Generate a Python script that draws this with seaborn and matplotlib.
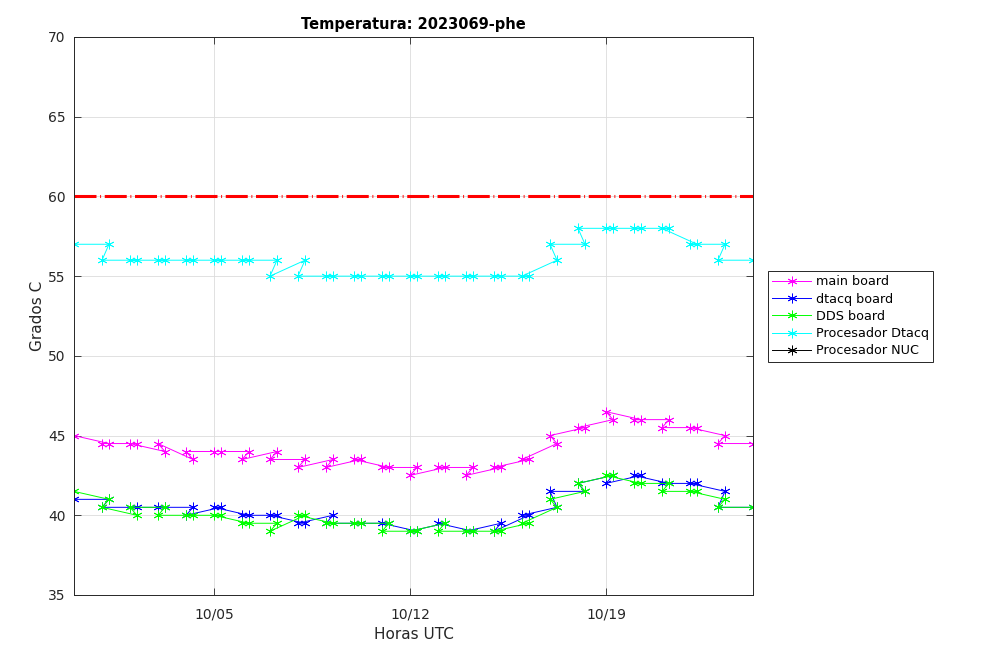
import matplotlib
matplotlib.use("Agg")
import matplotlib.pyplot as plt
import matplotlib.dates as mdates
from matplotlib.lines import Line2D
import numpy as np
import pandas as pd
import seaborn as sns

times = [
    "2023-09-30 00:00",
    "2023-10-01 06:00", "2023-10-01 00:00",
    "2023-10-02 06:00", "2023-10-02 00:00",
    "2023-10-03 06:00", "2023-10-03 00:00",
    "2023-10-04 06:00", "2023-10-04 00:00",
    "2023-10-05 06:00", "2023-10-05 00:00",
    "2023-10-06 06:00", "2023-10-06 00:00",
    "2023-10-07 06:00", "2023-10-07 00:00",
    "2023-10-08 06:00", "2023-10-08 00:00",
    "2023-10-09 06:00", "2023-10-09 00:00",
    "2023-10-10 06:00", "2023-10-10 00:00",
    "2023-10-11 06:00", "2023-10-11 00:00",
    "2023-10-12 06:00", "2023-10-12 00:00",
    "2023-10-13 06:00", "2023-10-13 00:00",
    "2023-10-14 06:00", "2023-10-14 00:00",
    "2023-10-15 06:00", "2023-10-15 00:00",
    "2023-10-16 06:00", "2023-10-16 00:00",
    "2023-10-17 06:00", "2023-10-17 00:00",
    "2023-10-18 06:00", "2023-10-18 00:00",
    "2023-10-19 06:00", "2023-10-19 00:00",
    "2023-10-20 06:00", "2023-10-20 00:00",
    "2023-10-21 06:00", "2023-10-21 00:00",
    "2023-10-22 06:00", "2023-10-22 00:00",
    "2023-10-23 06:00", "2023-10-23 00:00",
    "2023-10-24 06:00",
]

main_board = [45, 44.5, 44.5, 44.5, 44.5, 44, 44.5, 43.5, 44, 44, 44, 44, 43.5,
              44, 43.5, 43.5, 43, 43.5, 43, 43.5, 43.5, 43, 43, 43, 42.5, 43, 43,
              43, 42.5, 43, 43, 43.5, 43.5, 44.5, 45, 45.5, 45.5, 46, 46.5, 46, 46,
              46, 45.5, 45.5, 45.5, 45, 44.5, 44.5]

dtacq_board = [41, 41, 40.5, 40.5, 40.5, 40.5, 40.5, 40.5, 40, 40.5, 40.5, 40, 40,
               40, 40, 39.5, 39.5, 40, 39.5, 39.5, 39.5, 39.5, 39.5, 39, 39, 39.5,
               39.5, 39, 39, 39.5, 39, 40, 40, 40.5, 41.5, 41.5, 42, 42.5, 42, 42.5,
               42.5, 42, 42, 42, 42, 41.5, 40.5, 40.5]

dds_board = [41.5, 41, 40.5, 40, 40.5, 40.5, 40, 40, 40, 40, 40, 39.5, 39.5, 39.5,
             39, 40, 40, 39.5, 39.5, 39.5, 39.5, 39.5, 39, 39, 39, 39.5, 39, 39, 39,
             39, 39, 39.5, 39.5, 40.5, 41, 41.5, 42, 42.5, 42.5, 42, 42, 42, 41.5,
             41.5, 41.5, 41, 40.5, 40.5]

proc_dtacq = [57, 57, 56, 56, 56, 56, 56, 56, 56, 56, 56, 56, 56, 56, 55, 56, 55,
              55, 55, 55, 55, 55, 55, 55, 55, 55, 55, 55, 55, 55, 55, 55, 55, 56,
              57, 57, 58, 58, 58, 58, 58, 58, 58, 57, 57, 57, 56, 56]

proc_nuc = []  # no data recorded

limit_value = 60
series_names = ["main board", "dtacq board", "DDS board", "Procesador Dtacq", "Procesador NUC"]
series_colors = ["#ff00ff", "#0000ff", "#00ff00", "#00ffff", "#000000"]
x_ticks = ["2023-10-05", "2023-10-12", "2023-10-19"]
y_ticks = [35, 40, 45, 50, 55, 60, 65, 70]

t = pd.to_datetime(times)
df = pd.DataFrame({"t": t, "main board": main_board, "dtacq board": dtacq_board,
                   "DDS board": dds_board, "Procesador Dtacq": proc_dtacq})

fig = plt.figure(figsize=(10.08, 6.61), dpi=100)
ax = fig.add_axes([74 / 1008, 1 - 595 / 661, (753 - 74) / 1008, (595 - 37) / 661])

star = (6, 2, 0)
for name, col in zip(series_names[:4], series_colors[:4]):
    sns.lineplot(data=df, x="t", y=name, sort=False, estimator=None, ax=ax,
                 color=col, linewidth=0.7, marker=star, markersize=7,
                 markeredgecolor=col, markeredgewidth=0.6)

ax.axhline(limit_value, color="#ff0000", linewidth=2.2,
           linestyle=(0, (7.2, 1.2, 0.3, 1.2)))

ax.set_xlim(t.min(), t.max())
ax.set_ylim(35, 70)
ax.set_yticks(y_ticks)
ax.set_xticks(pd.to_datetime(x_ticks))
ax.xaxis.set_major_formatter(mdates.DateFormatter("%m/%d"))

ax.grid(True, color="#dcdcdc", linewidth=0.6)
ax.set_axisbelow(True)
for s in ax.spines.values():
    s.set_color("#262626")
    s.set_linewidth(0.7)
ax.tick_params(direction="in", length=5, width=0.6, colors="#262626",
               labelsize=10, top=True, right=True, pad=6)
ax.tick_params(axis="x", pad=9)

ax.set_title("Temperatura: 2023069-phe", fontsize=10.5, fontweight="bold", pad=6)
ax.set_xlabel("Horas UTC", fontsize=11, color="#262626", labelpad=4)
ax.set_ylabel("Grados C", fontsize=11, color="#262626", labelpad=2)

handles = [Line2D([], [], color=c, linewidth=0.7, marker=star, markersize=7,
                  markeredgecolor=c, markeredgewidth=0.6) for c in series_colors]
leg = ax.legend(handles, series_names, loc="upper left",
                bbox_to_anchor=(768 / 1008, 1 - 271 / 661),
                bbox_transform=fig.transFigure, fancybox=False, framealpha=1,
                edgecolor="#262626", fontsize=9.2, handlelength=3.0,
                borderpad=0.35, labelspacing=0.33, handletextpad=0.4,
                borderaxespad=0)
leg.get_frame().set_linewidth(0.7)

fig.savefig("out.png", dpi=100)
